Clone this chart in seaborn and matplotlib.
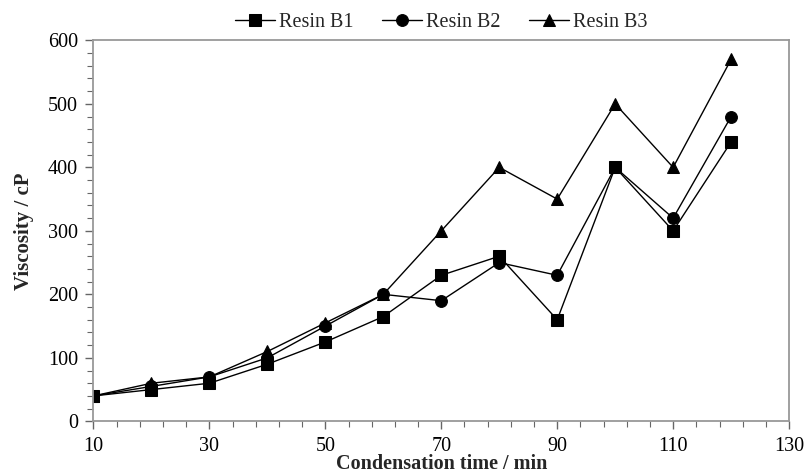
import numpy as np
import pandas as pd
import seaborn as sns
import matplotlib.pyplot as plt
from matplotlib.ticker import MultipleLocator

time_min = [10, 20, 30, 40, 50, 60, 70, 80, 90, 100, 110, 120]
resin_b1 = [40, 50, 60, 90, 125, 165, 230, 260, 160, 400, 300, 440]
resin_b2 = [40, 55, 70, 100, 150, 200, 190, 250, 230, 400, 320, 480]
resin_b3 = [40, 60, 70, 110, 155, 200, 300, 400, 350, 500, 400, 570]
series_names = ['Resin B1', 'Resin B2', 'Resin B3']

df = pd.DataFrame({'time': time_min * 3,
                   'visc': resin_b1 + resin_b2 + resin_b3,
                   'resin': np.repeat(series_names, len(time_min))})

sns.set_style('white')
plt.rcParams['font.family'] = ['Liberation Serif', 'DejaVu Serif']

fig, ax = plt.subplots(figsize=(8.06, 4.75), dpi=100)
fig.subplots_adjust(left=0.116, right=0.979, top=0.915, bottom=0.113)

sns.lineplot(data=df, x='time', y='visc', hue='resin', style='resin',
             markers={'Resin B1': 's', 'Resin B2': 'o', 'Resin B3': '^'},
             dashes=False, palette=['black'] * 3, linewidth=1.0,
             markersize=8.5, markeredgecolor='black', ax=ax)

ax.set_xlim(10, 130)
ax.set_ylim(0, 600)
ax.xaxis.set_major_locator(MultipleLocator(20, offset=10))
ax.xaxis.set_minor_locator(MultipleLocator(4, offset=2))
ax.yaxis.set_major_locator(MultipleLocator(100))
ax.yaxis.set_minor_locator(MultipleLocator(20))
ax.tick_params(which='major', direction='out', length=6, width=1, colors='#666666',
               labelcolor='black', labelsize=14.5, bottom=True, left=True, pad=5)
ax.tick_params(which='minor', direction='out', length=4, width=0.8, colors='#666666',
               bottom=True, left=True)
for s in ax.spines.values():
    s.set_color('#999999')
    s.set_linewidth(1.3)

ax.set_xlabel('Condensation time / min', fontsize=14.5, fontweight='bold', labelpad=-1)
ax.set_ylabel('Viscosity / cP', fontsize=15, fontweight='bold', labelpad=10)

handles, labels = ax.get_legend_handles_labels()
ax.legend(handles, labels, loc='lower center', bbox_to_anchor=(0.5, 1.0), ncol=3,
          frameon=False, fontsize=14.5, handlelength=2.0, handletextpad=0.2,
          columnspacing=1.4, borderaxespad=0.0)

plt.savefig('out.png', dpi=100)
